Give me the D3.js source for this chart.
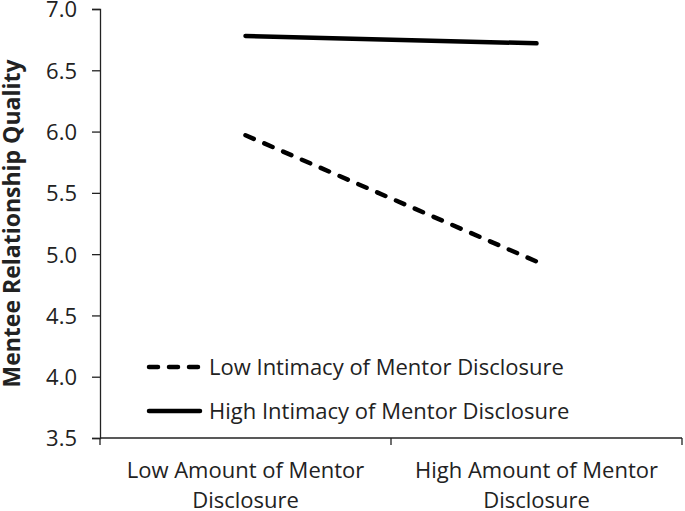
<!DOCTYPE html>
<html>
<head>
<meta charset="utf-8">
<script src="https://cdn.jsdelivr.net/npm/d3@7"></script>
<style>
  body { margin: 0; background: #fff; }
  text { font-family: "Open Sans", "Noto Sans", sans-serif; fill: #222; }
</style>
</head>
<body>
<svg id="chart" width="685" height="511"></svg>
<script>
// categories on the x axis (two lines each)
var categories = ["Low Amount of Mentor Disclosure", "High Amount of Mentor Disclosure"];
var categoryLines = [["Low Amount of Mentor", "Disclosure"], ["High Amount of Mentor", "Disclosure"]];
// series
var seriesNames = ["Low Intimacy of Mentor Disclosure", "High Intimacy of Mentor Disclosure"];
var lowIntimacy = [5.97, 4.94];
var highIntimacy = [6.78, 6.72];
var yTicks = [3.5, 4.0, 4.5, 5.0, 5.5, 6.0, 6.5, 7.0];

var svg = d3.select("#chart");
var margin = {left: 100, right: 3, top: 9, bottom: 73};
var width = 685, height = 511;

var x = d3.scaleBand().domain(categories)
  .range([margin.left, width - margin.right]);
var y = d3.scaleLinear().domain([3.5, 7.0])
  .range([height - margin.bottom, margin.top]);

/* y axis */
var yAxis = svg.append("g")
  .attr("transform", "translate(" + margin.left + ",0)")
  .call(d3.axisLeft(y).tickValues(yTicks).tickSize(8).tickPadding(15)
    .tickFormat(d3.format(".1f")));
yAxis.selectAll("text").style("font-size", "22px").attr("dy", "0.36em");
yAxis.select(".domain").attr("stroke", "#222").attr("stroke-width", 1.3);
yAxis.selectAll(".tick line").attr("stroke", "#222").attr("stroke-width", 1.3);

/* x axis: line plus ticks on category boundaries (Excel style) */
var y0 = y(3.5);
svg.append("line")
  .attr("x1", x.range()[0]).attr("x2", x.range()[1])
  .attr("y1", y0).attr("y2", y0)
  .attr("stroke", "#222").attr("stroke-width", 1.3);
var bounds = [x.range()[0]].concat(categories.map(function(c) { return x(c) + x.bandwidth(); }));
svg.selectAll(".xtick").data(bounds).enter().append("line")
  .attr("class", "xtick")
  .attr("x1", function(d) { return d; }).attr("x2", function(d) { return d; })
  .attr("y1", y0).attr("y2", y0 + 7)
  .attr("stroke", "#222").attr("stroke-width", 1.3);

var xlab = svg.selectAll(".xlab").data(categories).enter().append("text")
  .attr("class", "xlab")
  .attr("text-anchor", "middle")
  .style("font-size", "22px");
xlab.selectAll("tspan").data(function(d, i) { return categoryLines[i]; })
  .enter().append("tspan")
  .attr("x", function() { var c = d3.select(this.parentNode).datum(); return x(c) + x.bandwidth() / 2; })
  .attr("y", function(d, i) { return 478 + i * 30; })
  .text(function(d) { return d; });

/* y axis title */
svg.append("text")
  .attr("transform", "translate(20," + ((margin.top + height - margin.bottom) / 2) + ") rotate(-90)")
  .attr("text-anchor", "middle")
  .style("font-size", "23px")
  .style("font-weight", "bold")
  .text("Mentee Relationship Quality");

/* lines */
var line = d3.line()
  .x(function(d, i) { return x(categories[i]) + x.bandwidth() / 2; })
  .y(function(d) { return y(d); });

svg.append("path").datum(lowIntimacy)
  .attr("d", line).attr("fill", "none")
  .attr("stroke", "#000").attr("stroke-width", 4.5)
  .attr("stroke-linecap", "round")
  .attr("stroke-dasharray", "9,11.5");

svg.append("path").datum(highIntimacy)
  .attr("d", line).attr("fill", "none")
  .attr("stroke", "#000").attr("stroke-width", 4.5)
  .attr("stroke-linecap", "round");

/* legend */
var legend = svg.append("g");
var legRows = legend.selectAll("g").data(seriesNames).enter().append("g")
  .attr("transform", function(d, i) { return "translate(147," + (367 + i * 44) + ")"; });
legRows.append("line")
  .attr("x1", 2).attr("x2", 53).attr("y1", 0).attr("y2", 0)
  .attr("stroke", "#000").attr("stroke-width", 4.5)
  .attr("stroke-linecap", "round")
  .attr("stroke-dasharray", function(d, i) { return i === 0 ? "9,11" : null; });
legRows.append("text")
  .attr("x", 62).attr("y", 0).attr("dy", "0.36em")
  .style("font-size", "22px")
  .text(function(d) { return d; });
</script>
</body>
</html>
